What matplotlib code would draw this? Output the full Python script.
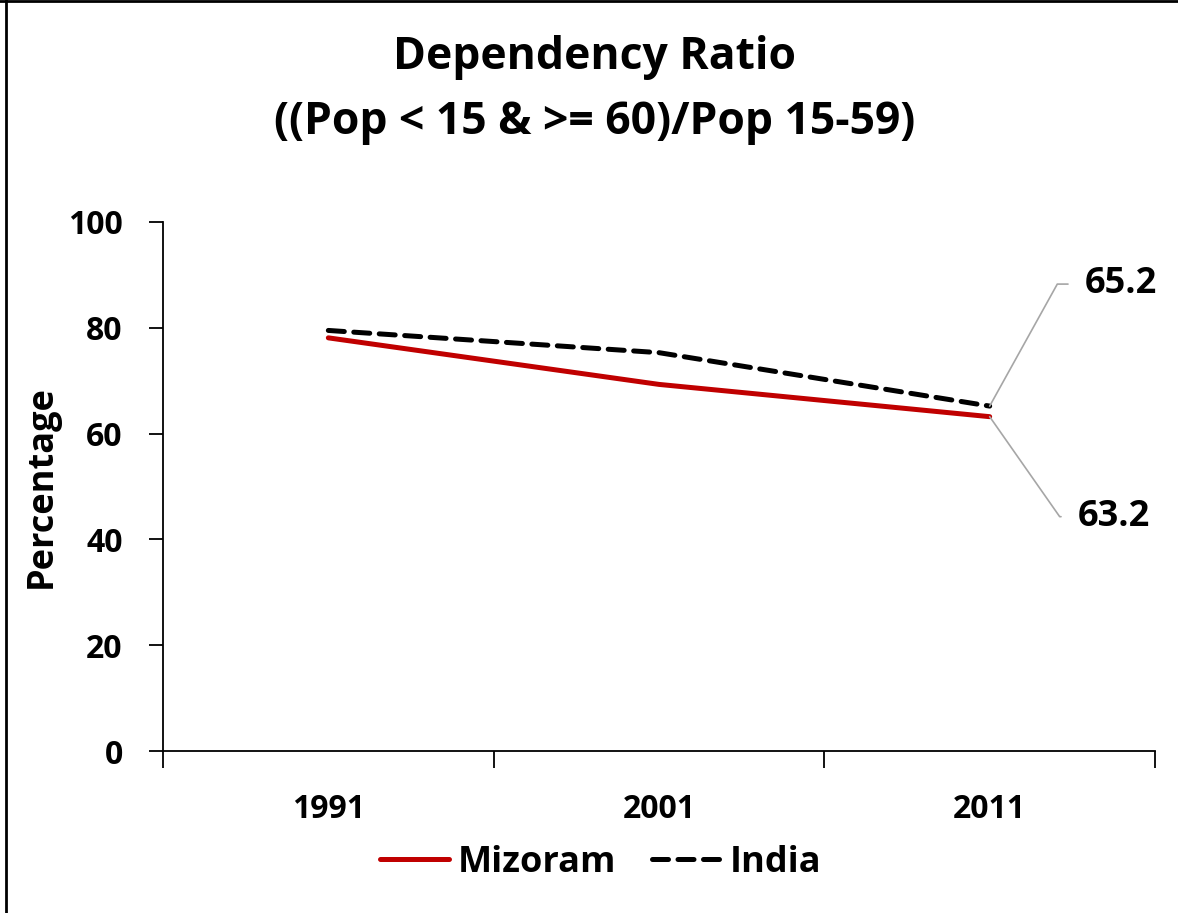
import matplotlib
matplotlib.use("Agg")
import matplotlib.pyplot as plt
from matplotlib.lines import Line2D

# datos
anios = ["1991", "2001", "2011"]
mizoram = [78.1, 69.3, 63.2]
india = [79.5, 75.3, 65.2]
etiquetas_y = [0, 20, 40, 60, 80, 100]

plt.rcParams['font.family'] = ['Open Sans', 'DejaVu Sans']
plt.rcParams['font.weight'] = 'bold'

fig = plt.figure(figsize=(11.78, 9.13), dpi=100)
ax = fig.add_axes([163/1178, 162/913, 992/1178, 529/913])

x = list(range(len(anios)))
ax.plot(x, mizoram, color='#c00000', lw=3.6, solid_capstyle='round', label='Mizoram')
ax.plot(x, india, color='black', lw=3.6, dashes=(3.2, 1.9), dash_capstyle='round', label='India')

ax.set_xlim(-0.5, len(anios) - 0.5)
ax.set_ylim(0, 100)
ax.set_yticks(etiquetas_y)
ax.set_yticklabels([str(v) for v in etiquetas_y], fontsize=23, fontweight='bold')
ax.set_xticks(x)
ax.set_xticklabels(anios, fontsize=23, fontweight='bold')
ax.set_xticks([i - 0.5 for i in range(len(anios) + 1)], minor=True)
ax.tick_params(axis='x', which='major', length=0, pad=30)
ax.tick_params(axis='x', which='minor', length=12, width=1.3, direction='out')
ax.tick_params(axis='y', length=10, width=1.3, direction='out', pad=19)

for s in ['top', 'right']:
    ax.spines[s].set_visible(False)
for s in ['left', 'bottom']:
    ax.spines[s].set_linewidth(1.3)

ax.set_ylabel('Percentage', fontsize=26, fontweight='bold', labelpad=6)

fig.suptitle('Dependency Ratio\n((Pop < 15 & >= 60)/Pop 15-59)', fontsize=32,
             fontweight='bold', x=0.505, y=0.962, linespacing=1.6)

# etiquetas de datos con lineas guia
ax.annotate(f"{india[-1]:.1f}", xy=(x[-1], india[-1]), xytext=(95, 122),
            textcoords='offset pixels', ha='left', va='center', fontsize=26, fontweight='bold',
            arrowprops=dict(arrowstyle='-', color='#a6a6a6', lw=1.2, shrinkA=10, shrinkB=0,
                            connectionstyle='angle,angleA=180,angleB=61,rad=0'))
ax.annotate(f"{mizoram[-1]:.1f}", xy=(x[-1], mizoram[-1]), xytext=(88, -100),
            textcoords='offset pixels', ha='left', va='center', fontsize=26, fontweight='bold',
            arrowprops=dict(arrowstyle='-', color='#a6a6a6', lw=1.2, shrinkA=10, shrinkB=0,
                            connectionstyle='angle,angleA=180,angleB=-55,rad=0'))

fig.legend(loc='center', bbox_to_anchor=(0.51, 0.055), ncol=2, frameon=False,
           prop={'size': 26, 'weight': 'bold'}, handlelength=1.9, columnspacing=1.0,
           handletextpad=0.25)

# marco de la figura
fig.add_artist(Line2D([6/1178, 6/1178], [0, 1], transform=fig.transFigure, color='black', lw=2))
fig.add_artist(Line2D([0, 1], [1 - 1/913, 1 - 1/913], transform=fig.transFigure, color='black', lw=2))

fig.savefig('out.png', dpi=100)
